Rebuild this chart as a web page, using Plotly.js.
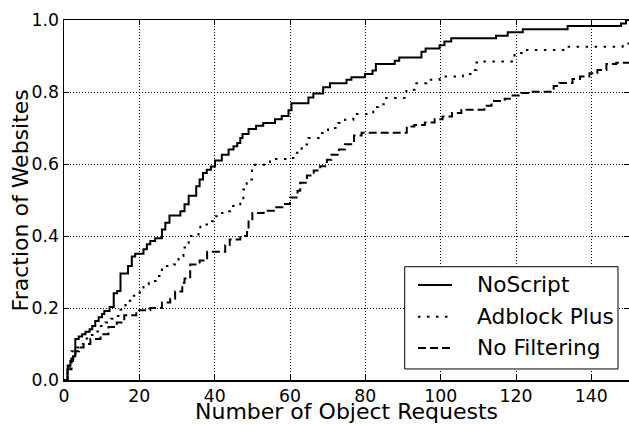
<!DOCTYPE html>
<html>
<head>
<meta charset="utf-8">
<script src="https://cdn.plot.ly/plotly-3.0.1.min.js"></script>
<style>html,body{margin:0;padding:0;background:#fff;}#chart{width:629px;height:424px;}</style>
</head>
<body>
<div id="chart"></div>
<script>
// NoScript (solid) CDF step points: x = object requests, y = fraction
const noscriptX = [0,0.9,1.0,1.7,2.4,3.0,3.9,4.8,5.7,6.8,7.5,8.3,9.2,10.1,10.7,12.1,13.2,14.1,15.0,17.0,18.0,18.9,21.1,22.0,22.9,24.2,26.0,26.9,28.0,30.9,32.0,33.1,35.1,36.0,36.9,37.9,39.0,40.1,41.9,43.7,45.0,46.0,46.8,47.4,49.0,51.0,52.9,56.0,57.8,59.6,60.4,64.9,66.2,68.8,70.6,75.0,76.3,79.9,81.9,82.8,87.8,89.0,94.9,96.0,99.7,101.0,102.8,114.7,117.8,121.8,133.7,147.9,149.2,150];
const noscriptY = [0,0.030,0.040,0.053,0.066,0.114,0.121,0.127,0.134,0.141,0.150,0.164,0.174,0.183,0.192,0.203,0.241,0.247,0.296,0.317,0.343,0.351,0.363,0.377,0.386,0.394,0.418,0.437,0.457,0.469,0.488,0.512,0.538,0.557,0.575,0.584,0.593,0.610,0.626,0.640,0.649,0.658,0.672,0.683,0.697,0.706,0.714,0.724,0.733,0.749,0.769,0.785,0.796,0.813,0.824,0.834,0.841,0.850,0.860,0.878,0.887,0.896,0.912,0.921,0.930,0.940,0.949,0.956,0.966,0.974,0.983,0.990,1.0,1.0];

// Adblock Plus (dotted)
const adblockX = [0,1.0,1.5,2.0,3.5,5.0,6.0,7.0,8.5,9.5,11.0,12.5,13.6,15.0,16.3,17.0,18.1,19.4,21.1,22.5,24.7,26.0,29.1,30.4,31.7,33.1,35.7,36.2,39.3,40.0,41.0,42.8,44.1,46.8,47.6,48.5,49.9,50.7,54.7,59.1,60.9,63.1,64.9,67.9,70.1,72.8,74.6,76.8,82.1,83.4,85.2,90.9,93.1,96.2,99.7,105.9,108.6,109.5,111.2,119.6,121.8,133.3,148.3,150];
const adblockY = [0,0.030,0.050,0.080,0.090,0.100,0.115,0.125,0.135,0.150,0.160,0.170,0.178,0.195,0.208,0.220,0.234,0.243,0.266,0.275,0.289,0.317,0.321,0.344,0.368,0.400,0.414,0.432,0.441,0.455,0.464,0.469,0.483,0.497,0.529,0.557,0.589,0.598,0.614,0.617,0.631,0.654,0.672,0.686,0.700,0.714,0.723,0.739,0.758,0.766,0.783,0.806,0.824,0.834,0.843,0.850,0.861,0.882,0.885,0.908,0.917,0.926,0.935,0.935];

// No Filtering (dashed)
const nofilterX = [0,1.0,2.0,3.0,4.0,5.2,7.0,9.7,11.8,14.0,16.0,19.2,22.9,26.0,28.2,29.5,31.4,32.0,33.5,36.0,38.0,42.8,44.0,46.8,48.6,49.0,50.0,53.0,56.0,58.0,60.0,62.0,62.7,64.5,66.3,68.0,69.8,71.0,73.0,74.6,77.0,79.0,91.0,93.0,95.8,98.4,100.5,103.0,105.5,111.6,113.5,117.0,118.8,121.5,124.0,130.0,131.5,135.0,137.0,139.5,141.6,144.0,146.6,150];
const nofilterY = [0,0.030,0.060,0.080,0.090,0.100,0.114,0.127,0.147,0.160,0.180,0.194,0.200,0.215,0.226,0.246,0.270,0.282,0.321,0.332,0.356,0.374,0.390,0.400,0.418,0.443,0.464,0.470,0.480,0.489,0.507,0.526,0.548,0.568,0.582,0.594,0.612,0.626,0.640,0.655,0.679,0.687,0.704,0.708,0.715,0.724,0.732,0.742,0.751,0.762,0.775,0.781,0.790,0.797,0.801,0.817,0.825,0.836,0.843,0.852,0.861,0.878,0.881,0.883];

const seriesNames = ['NoScript', 'Adblock Plus', 'No Filtering'];
const xTicks = [0,20,40,60,80,100,120,140];
const yTicks = [0.0,0.2,0.4,0.6,0.8,1.0];
const xTitle = 'Number of Object Requests';
const yTitle = 'Fraction of Websites';

const FONT = 'DejaVu Sans, sans-serif';
const DASHES = ['solid', '2.5px,6.5px', '8px,4px'];

const traces = [
  {x: noscriptX, y: noscriptY, name: seriesNames[0], mode: 'lines',
   line: {shape: 'hv', color: '#000', width: 2, dash: DASHES[0]}},
  {x: adblockX, y: adblockY, name: seriesNames[1], mode: 'lines',
   line: {shape: 'hv', color: '#000', width: 2, dash: DASHES[1]}},
  {x: nofilterX, y: nofilterY, name: seriesNames[2], mode: 'lines',
   line: {shape: 'hv', color: '#000', width: 2, dash: DASHES[2]}}
];

const axisCommon = {
  showline: true, mirror: 'allticks', linecolor: '#000', linewidth: 1.5,
  ticks: 'inside', ticklen: 5, tickcolor: '#000', tickwidth: 1,
  showgrid: true, gridcolor: '#000', gridwidth: 1, griddash: '1px,2px',
  zeroline: false, tickfont: {family: FONT, size: 17.3, color: '#000'}
};

// Legend drawn as a framed box in paper coordinates
const legBox = {x0: 0.603, x1: 0.9805, y0: 0.0306, y1: 0.3147};
const legRows = [0.2639, 0.1758, 0.0889];
const legLineX = [0.6265, 0.6867];
const legTextX = 0.7274;

const shapes = [{type: 'rect', xref: 'paper', yref: 'paper', x0: legBox.x0, x1: legBox.x1, y0: legBox.y0, y1: legBox.y1,
  line: {color: '#000', width: 1}, fillcolor: '#fff', layer: 'above'}];
const annotations = [
  {xref: 'paper', yref: 'paper', x: 0.5, y: -0.05, xanchor: 'center', yanchor: 'top', borderpad: 0,
   text: xTitle, showarrow: false, font: {family: FONT, size: 22, color: '#000'}},
  {xref: 'paper', yref: 'paper', x: -0.0772, y: 0.5, xanchor: 'center', yanchor: 'middle', textangle: -90,
   text: yTitle, showarrow: false, font: {family: FONT, size: 22, color: '#000'}}
];
seriesNames.forEach((n, i) => {
  shapes.push({type: 'line', xref: 'paper', yref: 'paper', x0: legLineX[0], x1: legLineX[1], y0: legRows[i], y1: legRows[i],
    line: {color: '#000', width: 2, dash: DASHES[i]}, layer: 'above'});
  annotations.push({xref: 'paper', yref: 'paper', x: legTextX, y: legRows[i], xanchor: 'left', yanchor: 'middle',
    text: n, showarrow: false, font: {family: FONT, size: 21.7, color: '#000'}});
});

const layout = {
  width: 629, height: 424,
  margin: {l: 64, r: 0, t: 20, b: 44, pad: 0},
  paper_bgcolor: '#fff', plot_bgcolor: '#fff',
  showlegend: false,
  xaxis: Object.assign({}, axisCommon, {
    range: [0, 150], tickvals: xTicks, ticktext: xTicks.map(String)
  }),
  yaxis: Object.assign({}, axisCommon, {
    range: [0, 1], tickvals: yTicks, ticktext: yTicks.map(v => v.toFixed(1))
  }),
  shapes: shapes,
  annotations: annotations
};

Plotly.newPlot('chart', traces, layout, {displayModeBar: false, staticPlot: true});
</script>
</body>
</html>
